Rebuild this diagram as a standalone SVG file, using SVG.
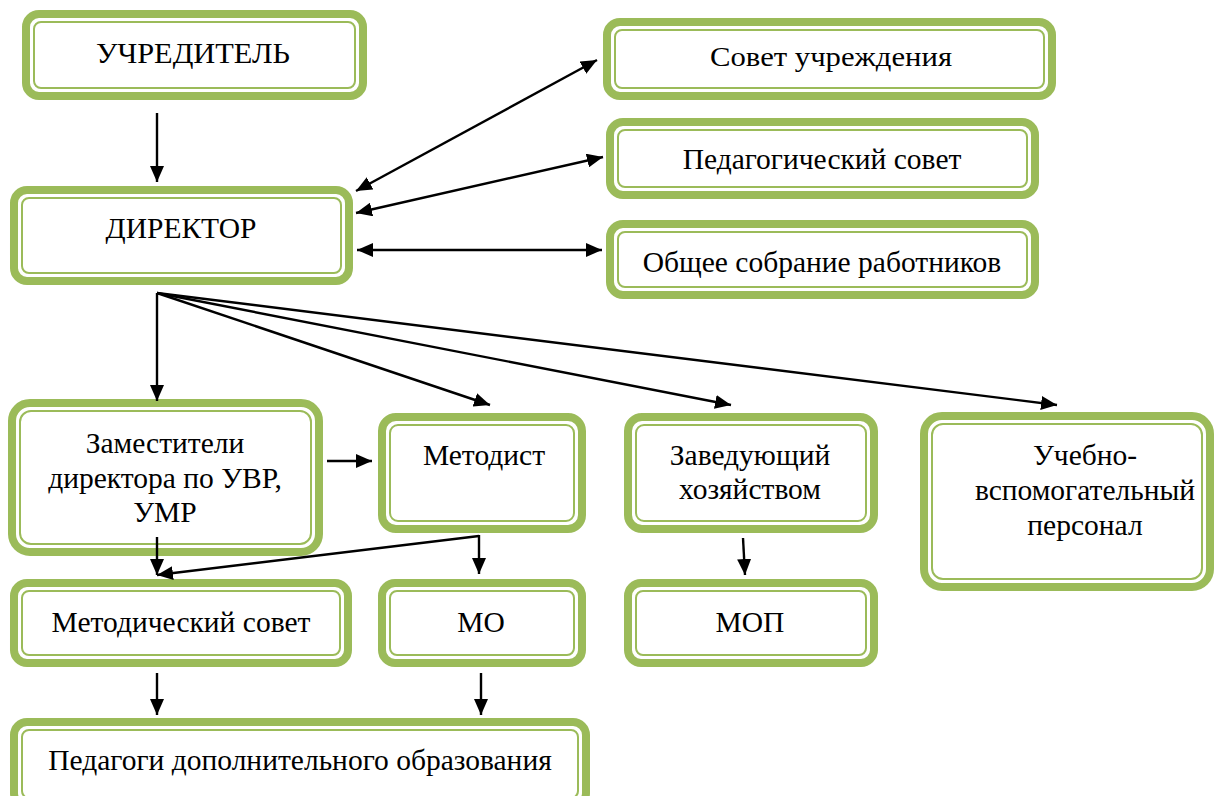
<svg xmlns="http://www.w3.org/2000/svg" width="1214" height="796" viewBox="0 0 1214 796">
<defs>
<style>
.o{fill:#fff;stroke:#9BBB59;stroke-width:8}
.i{fill:none;stroke:#9BBB59;stroke-width:2}
.t{font-family:'Liberation Serif','Times New Roman','DejaVu Serif',serif;font-size:29.5px;fill:#000;text-anchor:middle}
.m{font-family:'Liberation Serif','Times New Roman','DejaVu Serif',serif;fill:#000;text-anchor:middle}
.c{fill:none;stroke:#000;stroke-width:2.4}
</style>
<marker id="ah" viewBox="0 0 16 14" refX="16" refY="7" markerWidth="16" markerHeight="14" orient="auto-start-reverse" markerUnits="userSpaceOnUse">
<path d="M0,0 L16,7 L0,14 z" fill="#000"/>
</marker>
</defs>
<rect width="1214" height="796" fill="#fff"/>

<g id="uchreditel">
<rect class="o" x="26" y="14" width="337" height="82" rx="13"/>
<rect class="i" x="34" y="22" width="321" height="66" rx="7"/>
<text class="m" x="193" y="63" font-size="29" textLength="194" lengthAdjust="spacingAndGlyphs">УЧРЕДИТЕЛЬ</text>
</g>

<g id="sovet-uchrezhdeniya">
<rect class="o" x="607" y="22" width="445" height="74" rx="13"/>
<rect class="i" x="615" y="30" width="429" height="58" rx="7"/>
<text class="m" x="831" y="66" font-size="27" textLength="242" lengthAdjust="spacingAndGlyphs">Совет учреждения</text>
</g>

<g id="ped-sovet">
<rect class="o" x="610" y="122" width="425" height="73" rx="13"/>
<rect class="i" x="618" y="130" width="409" height="57" rx="7"/>
<text class="t" x="822" y="169">Педагогический совет</text>
</g>

<g id="direktor">
<rect class="o" x="14" y="190" width="335" height="91" rx="13"/>
<rect class="i" x="22" y="198" width="319" height="75" rx="7"/>
<text class="t" x="181" y="238">ДИРЕКТОР</text>
</g>

<g id="obshchee-sobranie">
<rect class="o" x="610" y="224" width="425" height="71" rx="13"/>
<rect class="i" x="618" y="232" width="409" height="55" rx="7"/>
<text class="t" x="822" y="272">Общее собрание работников</text>
</g>

<g id="zamestiteli">
<rect class="o" x="12" y="403" width="307" height="149" rx="18"/>
<rect class="i" x="20" y="411" width="291" height="133" rx="11"/>
<text class="t" x="165" y="453">Заместители</text>
<text class="t" x="165" y="488">директора по УВР,</text>
<text class="t" x="165" y="522">УМР</text>
</g>

<g id="metodist">
<rect class="o" x="382" y="417" width="200" height="112" rx="14"/>
<rect class="i" x="390" y="425" width="184" height="96" rx="8"/>
<text class="t" x="484" y="465">Методист</text>
</g>

<g id="zaveduyushchiy">
<rect class="o" x="628" y="417" width="246" height="112" rx="14"/>
<rect class="i" x="636" y="425" width="230" height="96" rx="8"/>
<text class="t" x="750" y="465">Заведующий</text>
<text class="t" x="750" y="499">хозяйством</text>
</g>

<g id="uchebno-vspomogatelny">
<rect class="o" x="924" y="416" width="286" height="171" rx="18"/>
<rect class="i" x="932" y="424" width="270" height="155" rx="11"/>
<text class="t" x="1085" y="465">Учебно-</text>
<text class="t" x="1085" y="500">вспомогательный</text>
<text class="t" x="1085" y="535">персонал</text>
</g>

<g id="metod-sovet">
<rect class="o" x="14" y="583" width="334" height="80" rx="13"/>
<rect class="i" x="22" y="591" width="318" height="64" rx="7"/>
<text class="t" x="181" y="632">Методический совет</text>
</g>

<g id="mo">
<rect class="o" x="382" y="583" width="200" height="80" rx="13"/>
<rect class="i" x="390" y="591" width="184" height="64" rx="7"/>
<text class="t" x="481" y="632">МО</text>
</g>

<g id="mop">
<rect class="o" x="628" y="583" width="246" height="80" rx="13"/>
<rect class="i" x="636" y="591" width="230" height="64" rx="7"/>
<text class="t" x="750" y="632">МОП</text>
</g>

<g id="pedagogi-do">
<rect class="o" x="14" y="722" width="572" height="84" rx="13"/>
<rect class="i" x="22" y="730" width="556" height="68" rx="7"/>
<text class="t" x="300" y="770">Педагоги дополнительного образования</text>
</g>

<g id="connectors">
<line class="c" x1="157" y1="113" x2="157" y2="182" marker-end="url(#ah)"/>
<line class="c" x1="356" y1="191" x2="597" y2="60" marker-start="url(#ah)" marker-end="url(#ah)"/>
<line class="c" x1="356" y1="213" x2="603" y2="157" marker-start="url(#ah)" marker-end="url(#ah)"/>
<line class="c" x1="357" y1="250" x2="602" y2="250" marker-start="url(#ah)" marker-end="url(#ah)"/>
<line class="c" x1="157" y1="293" x2="157" y2="401" marker-end="url(#ah)"/>
<line class="c" x1="157" y1="293" x2="490" y2="405" marker-end="url(#ah)"/>
<line class="c" x1="157" y1="293" x2="731" y2="405" marker-end="url(#ah)"/>
<line class="c" x1="157" y1="293" x2="1057" y2="405" marker-end="url(#ah)"/>
<line class="c" x1="327" y1="461" x2="372" y2="461" marker-end="url(#ah)"/>
<line class="c" x1="157" y1="537" x2="157" y2="575" marker-end="url(#ah)"/>
<line class="c" x1="479" y1="536" x2="157" y2="575" marker-end="url(#ah)"/>
<line class="c" x1="479" y1="535" x2="479" y2="574" marker-end="url(#ah)"/>
<line class="c" x1="743" y1="538" x2="745" y2="575" marker-end="url(#ah)"/>
<line class="c" x1="157" y1="673" x2="157" y2="715" marker-end="url(#ah)"/>
<line class="c" x1="481" y1="673" x2="481" y2="715" marker-end="url(#ah)"/>
</g>
</svg>
